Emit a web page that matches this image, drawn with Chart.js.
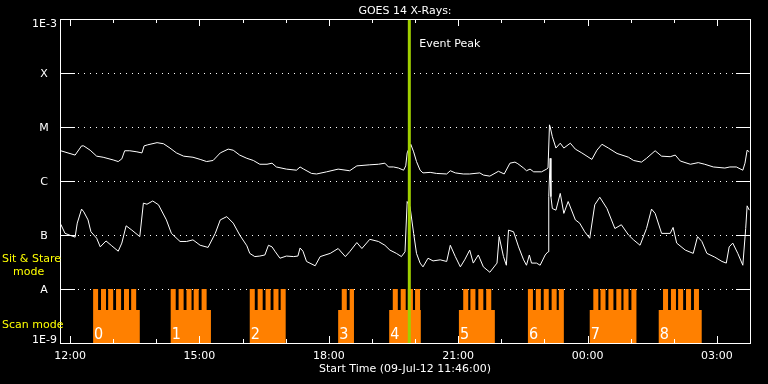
<!DOCTYPE html>
<html>
<head>
<meta charset="utf-8">
<script src="https://cdn.jsdelivr.net/npm/chart.js@4.4.1/dist/chart.umd.min.js"></script>
<style>
  html, body { margin: 0; padding: 0; background: #000; }
  canvas { display: block; }
</style>
</head>
<body>
<canvas id="goes" width="768" height="384"></canvas>
<script>
// times are minutes after the start time (09-Jul-12 11:46:00)
const startLabel = 'Start Time (09-Jul-12 11:46:00)';
const hourMinutes = [14, 74, 134, 194, 254, 314, 374, 434, 494, 554, 614, 674, 734, 794, 854, 914];
const tickMinutes = [14, 194, 374, 554, 734, 914];
const tickLabels = ['12:00', '15:00', '18:00', '21:00', '00:00', '03:00'];

const levelValues = [1e-9, 1e-8, 1e-7, 1e-6, 1e-5, 1e-4, 1e-3];
const levelLabels = ['1E-9', 'A', 'B', 'C', 'M', 'X', '1E-3'];

// 1-8 A channel, log10 of flux
const upperMin = [1, 21, 30, 33, 42, 51, 60, 74, 81, 86,
  90, 97, 107, 114, 117, 122, 135, 144, 153, 162,
  172, 185, 195, 204, 213, 223, 234, 241, 250, 260,
  269, 278, 288, 295, 301, 315, 329, 334, 339, 350,
  357, 371, 387, 403, 413, 431, 443, 452, 457, 464,
  471, 478, 481, 483, 488, 492, 496, 501, 505, 515,
  524, 538, 543, 550, 561, 570, 584, 589, 598, 610,
  618, 626, 633, 637, 645, 649, 654, 659, 670, 677,
  679, 681, 682, 685, 690, 696, 701, 710, 717, 726,
  740, 747, 754, 763, 775, 791, 798, 809, 816, 828,
  837, 849, 856, 863, 877, 888, 897, 909, 925, 932,
  941, 950, 953, 956, 959];
const upperLog = [-5.44, -5.52, -5.35, -5.35, -5.43, -5.54, -5.56, -5.61, -5.64, -5.59,
  -5.44, -5.44, -5.46, -5.48, -5.35, -5.33, -5.29, -5.31, -5.39, -5.48,
  -5.54, -5.56, -5.60, -5.64, -5.62, -5.48, -5.41, -5.43, -5.52, -5.58,
  -5.62, -5.69, -5.69, -5.67, -5.74, -5.78, -5.80, -5.74, -5.78, -5.86,
  -5.87, -5.83, -5.78, -5.81, -5.72, -5.70, -5.69, -5.67, -5.74, -5.74,
  -5.76, -5.80, -5.72, -5.48, -5.32, -5.46, -5.64, -5.80, -5.85, -5.84,
  -5.86, -5.87, -5.81, -5.85, -5.87, -5.87, -5.85, -5.89, -5.91, -5.82,
  -5.87, -5.67, -5.65, -5.68, -5.76, -5.81, -5.78, -5.83, -5.83, -5.78,
  -5.76, -4.96, -5.00, -5.18, -5.39, -5.30, -5.39, -5.30, -5.41, -5.48,
  -5.60, -5.43, -5.32, -5.39, -5.49, -5.56, -5.62, -5.65, -5.58, -5.44,
  -5.54, -5.55, -5.52, -5.63, -5.69, -5.66, -5.69, -5.74, -5.76, -5.74,
  -5.74, -5.80, -5.67, -5.43, -5.46];

// 0.5-4 A channel, log10 of flux
const lowerMin = [1, 7, 21, 24, 30, 33, 39, 43, 51, 56,
  64, 72, 81, 86, 92, 100, 111, 116, 121, 129,
  137, 148, 155, 167, 176, 185, 195, 206, 216, 223,
  232, 241, 250, 260, 264, 271, 278, 285, 290, 295,
  299, 306, 315, 325, 331, 334, 338, 343, 355, 362,
  376, 387, 397, 403, 413, 420, 431, 443, 452, 459,
  468, 475, 480, 483, 487, 492, 496, 501, 505, 512,
  519, 529, 538, 543, 550, 557, 563, 570, 575, 582,
  589, 598, 608, 611, 617, 621, 624, 631, 638, 645,
  649, 653, 656, 663, 668, 675, 679, 680, 682, 683,
  685, 690, 696, 701, 707, 717, 723, 730, 737, 744,
  751, 761, 772, 781, 791, 798, 807, 816, 823, 828,
  837, 849, 853, 858, 870, 881, 887, 893, 900, 911,
  921, 927, 931, 936, 943, 950, 954, 956, 959];
const lowerLog = [-6.80, -6.97, -7.04, -6.78, -6.52, -6.57, -6.72, -6.94, -7.06, -7.22,
  -7.11, -7.20, -7.30, -7.15, -6.83, -6.91, -7.03, -6.41, -6.43, -6.37,
  -6.44, -6.72, -6.97, -7.12, -7.12, -7.09, -7.19, -7.23, -6.97, -6.72,
  -6.66, -6.78, -7.00, -7.20, -7.34, -7.40, -7.39, -7.37, -7.19, -7.22,
  -7.30, -7.43, -7.39, -7.40, -7.39, -7.24, -7.30, -7.49, -7.57, -7.40,
  -7.34, -7.25, -7.40, -7.31, -7.14, -7.25, -7.08, -7.12, -7.19, -7.28,
  -7.34, -7.40, -7.31, -6.38, -6.48, -6.97, -7.34, -7.52, -7.59, -7.43,
  -7.48, -7.46, -7.49, -7.19, -7.40, -7.59, -7.46, -7.28, -7.52, -7.37,
  -7.59, -7.69, -7.52, -7.03, -7.40, -7.56, -6.91, -6.94, -7.22, -7.46,
  -7.56, -7.37, -7.52, -7.52, -7.56, -7.37, -7.31, -6.29, -5.58, -6.29,
  -6.51, -6.54, -6.23, -6.60, -6.38, -6.72, -6.78, -6.94, -7.06, -6.44,
  -6.30, -6.51, -6.88, -6.81, -7.00, -7.09, -7.19, -6.88, -6.52, -6.60,
  -6.97, -6.97, -6.86, -7.15, -7.28, -7.34, -7.03, -7.12, -7.34, -7.41,
  -7.49, -7.52, -7.22, -7.15, -7.34, -7.56, -6.88, -6.46, -6.54];

// SXI observing blocks: scan mode with sit & stare dwells
const scanStart = [46, 154, 264, 387, 458, 555, 651, 737, 833];
const scanEnd = [111, 210, 314, 409, 502, 605, 701, 802, 893];
const stareStart = [
  [46, 57, 67, 78, 89, 99],
  [154, 165, 176, 186, 197],
  [264, 275, 286, 297, 307],
  [392, 403],
  [463, 474, 484, 494],
  [561, 571, 582, 593],
  [651, 662, 673, 684, 694],
  [742, 752, 763, 774, 784, 795],
  [839, 850, 860, 871, 882]
];
const stareLength = 7;
const blockLabels = ['0', '1', '2', '3', '4', '5', '6', '7', '8'];
const scanLevel = 4.1e-9;
const stareLevel = 1e-8;

const eventPeak = 486;
const eventLabel = 'Event Peak';

function toPoints(mins, logs) {
  const n = Math.min(mins.length, logs.length);
  const pts = [];
  for (let i = 0; i < n; i++) pts.push({ x: mins[i], y: Math.pow(10, logs[i]) });
  return pts;
}

function modePoints() {
  const pts = [];
  scanStart.forEach(function (s, i) {
    const e = scanEnd[i];
    pts.push({ x: s, y: scanLevel });
    stareStart[i].forEach(function (t) {
      pts.push({ x: t, y: stareLevel });
      pts.push({ x: Math.min(t + stareLength, e), y: scanLevel });
    });
    pts.push({ x: e, y: 1e-9 });
  });
  return pts;
}

const FONT = '11px "DejaVu Sans", sans-serif';

const goesFrame = {
  id: 'goesFrame',
  beforeDatasetsDraw(chart) {
    const { ctx, chartArea: a, scales: { y } } = chart;
    ctx.save();
    ctx.strokeStyle = '#fff';
    ctx.lineWidth = 1;
    ctx.setLineDash([1, 5]);
    levelValues.slice(1, -1).forEach(function (v) {
      const py = Math.round(y.getPixelForValue(v)) + 0.5;
      ctx.beginPath();
      ctx.moveTo(a.left + 18, py);
      ctx.lineTo(a.right - 14, py);
      ctx.stroke();
    });
    ctx.restore();
  },
  afterDatasetsDraw(chart) {
    const { ctx, chartArea: a, scales: { x, y } } = chart;
    ctx.save();
    ctx.strokeStyle = '#fff';
    ctx.lineWidth = 1;
    ctx.strokeRect(a.left + 0.5, a.top + 0.5, a.right - a.left, a.bottom - a.top);

    // level ticks on both sides
    ctx.beginPath();
    levelValues.slice(1, -1).forEach(function (v) {
      const py = Math.round(y.getPixelForValue(v)) + 0.5;
      ctx.moveTo(a.left, py); ctx.lineTo(a.left + 15, py);
      ctx.moveTo(a.right - 14, py); ctx.lineTo(a.right, py);
    });
    // hour ticks top and bottom
    hourMinutes.forEach(function (m) {
      const px = Math.round(x.getPixelForValue(m)) + 0.5;
      const len = tickMinutes.includes(m) ? 7 : 4;
      ctx.moveTo(px, a.bottom); ctx.lineTo(px, a.bottom - len);
      ctx.moveTo(px, a.top); ctx.lineTo(px, a.top + len);
    });
    ctx.stroke();

    ctx.fillStyle = '#fff';
    ctx.font = FONT;
    ctx.textBaseline = 'alphabetic';

    // title
    ctx.textAlign = 'center';
    ctx.fillText('GOES 14 X-Rays:', (a.left + a.right) / 2, 14);

    // time labels
    tickMinutes.forEach(function (m, i) {
      ctx.fillText(tickLabels[i], x.getPixelForValue(m), 359);
    });
    ctx.fillText(startLabel, (a.left + a.right) / 2, 372);

    // level labels
    levelLabels.forEach(function (lab, i) {
      const py = y.getPixelForValue(levelValues[i]);
      if (i === 0) {
        ctx.textAlign = 'right';
        ctx.fillText(lab, a.left - 3, py);
      } else if (i === levelLabels.length - 1) {
        ctx.textAlign = 'right';
        ctx.fillText(lab, a.left - 3, py + 8);
      } else {
        ctx.textAlign = 'center';
        ctx.fillText(lab, a.left - 16, py + 4);
      }
    });

    // event label
    ctx.textAlign = 'left';
    ctx.fillText(eventLabel, x.getPixelForValue(eventPeak) + 10, 47);

    // mode labels
    ctx.fillStyle = '#ffff00';
    ctx.fillText('Sit & Stare', 2, 262);
    ctx.fillText('mode', 13, 275);
    ctx.fillText('Scan mode', 2, 328);

    // block numbers
    ctx.fillStyle = '#fff';
    ctx.font = '16px "Liberation Sans Narrow", "DejaVu Sans Condensed", sans-serif';
    scanStart.forEach(function (s, i) {
      ctx.fillText(blockLabels[i], x.getPixelForValue(s) + 1, 339);
    });
    ctx.restore();
  }
};

const ctx = document.getElementById('goes').getContext('2d');
// eslint-disable-next-line no-undef
const chart = new Chart(ctx, {
  type: 'line',
  data: {
    datasets: [
      {
        label: eventLabel,
        data: [{ x: eventPeak, y: 1e-9 }, { x: eventPeak, y: 1e-3 }],
        borderColor: '#a0d000',
        borderWidth: 3
      },
      {
        label: '1-8 A',
        data: toPoints(upperMin, upperLog),
        borderColor: '#ffffff',
        borderWidth: 1
      },
      {
        label: '0.5-4 A',
        data: toPoints(lowerMin, lowerLog),
        borderColor: '#ffffff',
        borderWidth: 1
      },
      {
        label: 'SXI mode',
        data: modePoints(),
        stepped: true,
        fill: 'start',
        backgroundColor: '#ff8000',
        borderColor: 'rgba(0,0,0,0)',
        borderWidth: 0
      }
    ]
  },
  options: {
    responsive: false,
    animation: false,
    devicePixelRatio: 1,
    layout: { padding: { left: 60, right: 18, top: 19, bottom: 41 } },
    elements: { point: { radius: 0 }, line: { tension: 0 } },
    plugins: { legend: { display: false }, tooltip: { enabled: false } },
    scales: {
      x: { type: 'linear', min: 0, max: 960, display: false },
      y: { type: 'logarithmic', min: 1e-9, max: 1e-3, display: false }
    }
  },
  plugins: [goesFrame]
});
</script>
</body>
</html>
